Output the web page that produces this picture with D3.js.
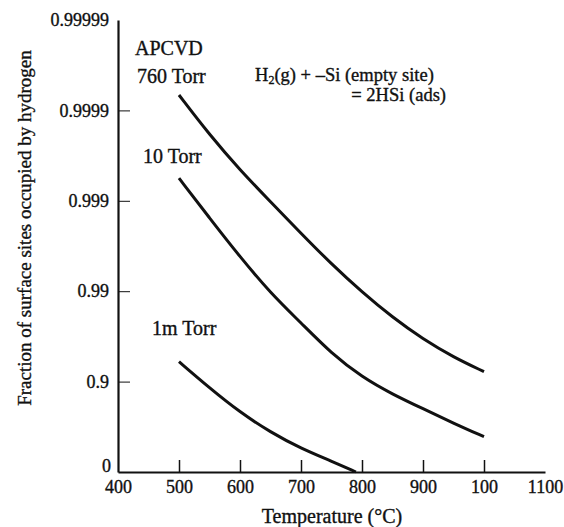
<!DOCTYPE html>
<html>
<head>
<meta charset="utf-8">
<script src="https://cdn.jsdelivr.net/npm/d3@7"></script>
<style>
  body { margin: 0; background: #fff; }
  svg text { font-family: "Liberation Serif", "DejaVu Serif", serif; fill: #111; stroke: #111; stroke-width: 0.35px; }
</style>
</head>
<body>
<div id="chart"></div>
<script>
// temperatures in deg C, values as "number of nines" = -log10(1 - fraction)
const temps = [500, 550, 600, 650, 700, 750, 800, 850, 900, 950, 1000];
const torr760 = [4.17, 3.73, 3.34, 2.99, 2.64, 2.30, 1.99, 1.71, 1.47, 1.27, 1.11];
const torr10 = [3.25, 2.81, 2.38, 1.98, 1.65, 1.31, 1.05, 0.86, 0.70, 0.54, 0.39];
const temps1m = [500, 550, 600, 650, 700, 750, 790];
const torr1m = [1.22, 0.93, 0.66, 0.44, 0.26, 0.12, 0.0];

const xTicks = [400, 500, 600, 700, 800, 900, 1000, 1100];
const xTickLabels = ["400", "500", "600", "700", "800", "900", "100", "1100"]; // as printed
const yTicks = [0, 1, 2, 3, 4, 5];
const yTickLabels = ["0", "0.9", "0.99", "0.999", "0.9999", "0.99999"];

const W = 564, H = 527;
const svg = d3.select("#chart").append("svg")
    .attr("width", W)
    .attr("height", H);

const x = d3.scaleLinear().domain([400, 1100]).range([118, 545]);
const y = d3.scaleLinear().domain([0, 5]).range([472, 20]);

// axes (ticks point inward)
const xAxis = d3.axisBottom(x)
    .tickValues(xTicks)
    .tickSizeInner(-12)
    .tickSizeOuter(0)
    .tickPadding(8)
    .tickFormat((d, i) => xTickLabels[i]);

const gx = svg.append("g")
    .attr("transform", "translate(0," + y(0) + ")")
    .call(xAxis);
gx.select(".domain").attr("stroke", "#111").attr("stroke-width", 2.2);
gx.selectAll(".tick line")
    .attr("stroke", "#111")
    .attr("stroke-width", 1.5)
    .attr("display", d => (d === 400 || d === 1100) ? "none" : null);
gx.selectAll(".tick text").attr("font-size", 18).attr("fill", "#111");

const yAxis = d3.axisLeft(y)
    .tickValues(yTicks)
    .tickSizeInner(-12)
    .tickSizeOuter(0)
    .tickPadding(9)
    .tickFormat((d, i) => yTickLabels[i]);

const gy = svg.append("g")
    .attr("transform", "translate(" + x(400) + ",0)")
    .call(yAxis);
gy.select(".domain").attr("stroke", "#111").attr("stroke-width", 2.2);
gy.selectAll(".tick line")
    .attr("stroke", "#111")
    .attr("stroke-width", 1)
    .attr("display", d => (d === 0 || d === 5) ? "none" : null);
gy.selectAll(".tick text").attr("font-size", 18).attr("fill", "#111");
// the "0" sits just above the corner
gy.selectAll(".tick text").filter(d => d === 0)
    .attr("x", -7)
    .attr("dy", "-0.02em");

// curves
const line = d3.line()
    .x(d => x(d[0]))
    .y(d => y(d[1]))
    .curve(d3.curveBasis);

const series = [
    d3.zip(temps, torr760),
    d3.zip(temps, torr10),
    d3.zip(temps1m, torr1m)
];

svg.selectAll(".curve")
    .data(series)
    .enter()
    .append("path")
    .attr("class", "curve")
    .attr("fill", "none")
    .attr("stroke", "#111")
    .attr("stroke-width", 3)
    .attr("d", line);

// labels
const labels = [
    {text: "APCVD", x: 135, y: 55},
    {text: "760 Torr", x: 137, y: 83},
    {text: "10 Torr", x: 143, y: 163},
    {text: "1m Torr", x: 152, y: 335}
];
svg.selectAll(".lbl")
    .data(labels)
    .enter()
    .append("text")
    .attr("class", "lbl")
    .attr("x", d => d.x)
    .attr("y", d => d.y)
    .attr("font-size", 20)
    .text(d => d.text);

// reaction
const eq1 = svg.append("text").attr("x", 255).attr("y", 81).attr("font-size", 18.5);
eq1.append("tspan").text("H");
eq1.append("tspan").attr("font-size", 12).attr("dy", 3).text("2");
eq1.append("tspan").attr("dy", -3).text("(g) + \u2013Si (empty site)");
svg.append("text")
    .attr("x", 446).attr("y", 101)
    .attr("text-anchor", "end")
    .attr("font-size", 18.5)
    .text("= 2HSi (ads)");

// axis titles
svg.append("text")
    .attr("x", 332)
    .attr("y", 523)
    .attr("text-anchor", "middle")
    .attr("font-size", 20)
    .text("Temperature (\u00b0C)");

svg.append("text")
    .attr("transform", "translate(31,228) rotate(-90)")
    .attr("text-anchor", "middle")
    .attr("font-size", 19)
    .text("Fraction of surface sites occupied by hydrogen");
</script>
</body>
</html>
